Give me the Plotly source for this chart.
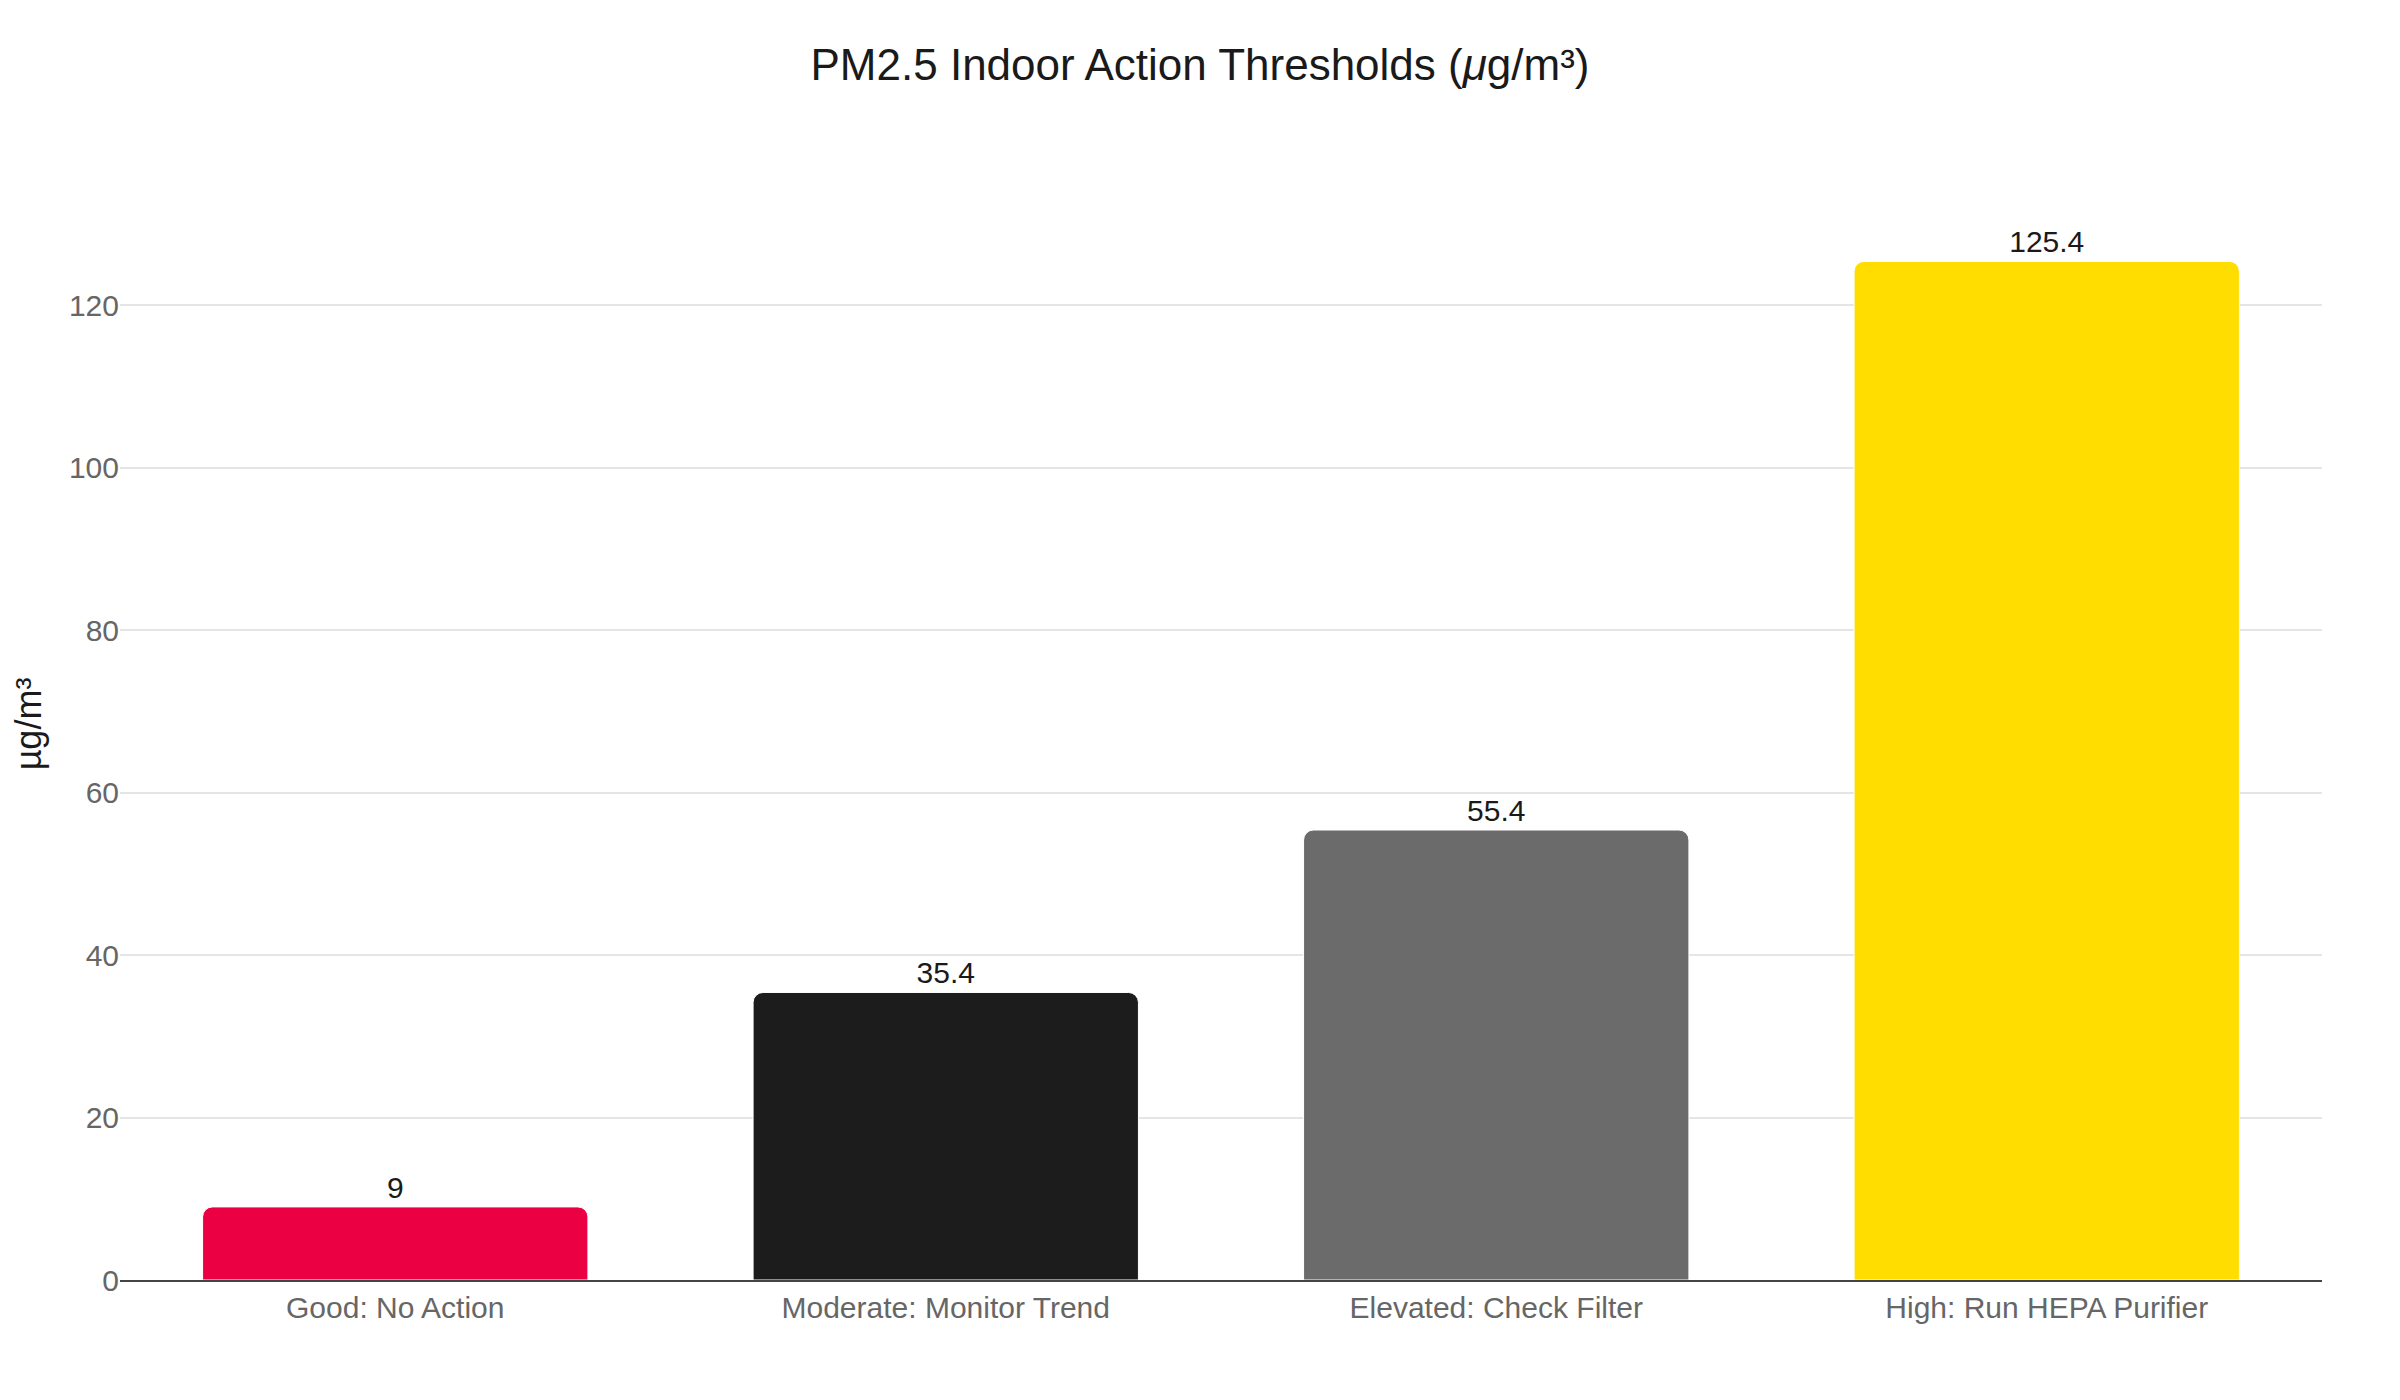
import plotly.graph_objects as go

categories = ["Good: No Action", "Moderate: Monitor Trend", "Elevated: Check Filter", "High: Run HEPA Purifier"]
thresholds = [9, 35.4, 55.4, 125.4]
bar_colors = ["#EC0044", "#1C1C1C", "#6B6B6B", "#FFDD00"]
y_ticks = [0, 20, 40, 60, 80, 100, 120]

fig = go.Figure(go.Bar(
    x=categories,
    y=thresholds,
    marker=dict(color=bar_colors, line=dict(color="white", width=1)),
    text=[f"{v:g}" for v in thresholds],
    textposition="outside",
    textfont=dict(size=30, color="#1a1a1a"),
    cliponaxis=False,
))

fig.update_layout(
    title=dict(text="PM2.5 Indoor Action Thresholds (<i>μ</i>g/m³)", x=0.5, xanchor="center",
               y=0.959, yanchor="middle", font=dict(size=44, color="#1a1a1a")),
    font=dict(family="Liberation Sans, Arial, Helvetica, sans-serif"),
    template="plotly_white",
    bargap=0.3,
    barcornerradius=10,
    showlegend=False,
    margin=dict(l=112, r=70, t=160, b=112),
    xaxis=dict(
        tickfont=dict(size=30, color="#666666"),
        showline=True, linecolor="#444444", linewidth=2,
        showgrid=False,
        automargin=False,
    ),
    yaxis=dict(
        title=dict(text="µg/m³", font=dict(size=36, color="#1a1a1a"), standoff=29),
        tickvals=y_ticks,
        tickfont=dict(size=30, color="#666666"),
        gridcolor="#E5E5E5", gridwidth=2,
        zeroline=False,
        range=[0, 136.9],
        automargin=False,
    ),
    plot_bgcolor="white",
    paper_bgcolor="white",
)

fig.write_html("out.html")
